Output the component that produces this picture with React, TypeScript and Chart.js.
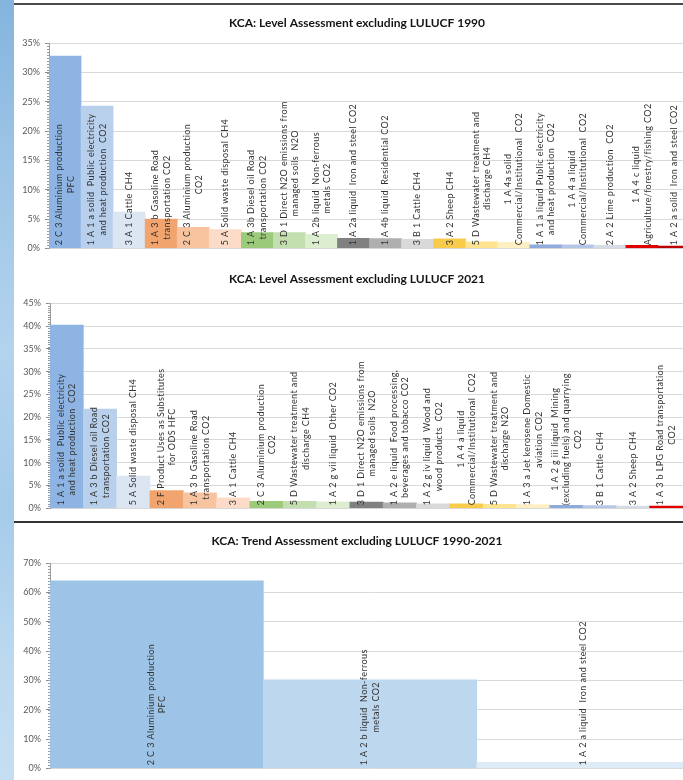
import React, { useEffect, useRef } from "react";
import { Chart, registerables } from "chart.js";

Chart.register(...registerables);

// ---------- Chart 1: Level Assessment 1990 ----------
const categories1990: string[][] = [
  ["2 C 3 Aluminium production", "PFC"],
  ["1 A 1 a solid  Public electricity", "and heat production  CO2"],
  ["3 A 1 Cattle CH4"],
  ["1 A 3 b Gasoline Road", "transportation CO2"],
  ["2 C 3 Aluminium production", "CO2"],
  ["5 A Solid waste disposal CH4"],
  ["1 A 3b Diesel oil Road", "transportation CO2"],
  ["3 D 1 Direct N2O emissions from", "managed soils  N2O"],
  ["1 A 2b liquid  Non-ferrous", "metals CO2"],
  ["1 A 2a liquid  Iron and steel CO2"],
  ["1 A 4b liquid  Residential CO2"],
  ["3 B 1 Cattle CH4"],
  ["3 A 2 Sheep CH4"],
  ["5 D Wastewater treatment and", "discharge CH4"],
  ["1 A 4a solid", "Commercial/Institutional  CO2"],
  ["1 A 1 a liquid Public electricity", "and heat production  CO2"],
  ["1 A 4 a liquid", "Commercial/Institutional  CO2"],
  ["2 A 2 Lime production  CO2"],
  ["1 A 4 c liquid", "Agriculture/forestry/fishing CO2"],
  ["1 A 2 a solid  Iron and steel CO2"],
];
const values1990: number[] = [
  32.8, 24.3, 6.2, 5.0, 3.6, 3.2, 2.7, 2.7, 2.4, 1.7, 1.65, 1.55, 1.6, 1.1, 1.0,
  0.6, 0.6, 0.5, 0.5, 0.4,
];
const colors1990: string[] = [
  "#8db4e2", "#b8d0ec", "#dce6f2",
  "#f2a46e", "#f8c4a0", "#fcdcc8",
  "#9bcb7a", "#c4dfaf", "#ddedd0",
  "#808080", "#afafaf", "#d9d9d9",
  "#f8cb4a", "#ffe38f", "#fff0c4",
  "#8faadc", "#b4c7e7", "#d6dce5",
  "#e00000", "#c00000",
];

// ---------- Chart 2: Level Assessment 2021 ----------
const categories2021: string[][] = [
  ["1 A 1 a solid  Public electricity", "and heat production  CO2"],
  ["1 A 3 b Diesel oil Road", "transportation CO2"],
  ["5 A Solid waste disposal CH4"],
  ["2 F Product Uses as Substitutes", "for ODS HFC"],
  ["1 A 3 b Gasoline Road", "transportation CO2"],
  ["3 A 1 Cattle CH4"],
  ["2 C 3 Aluminium production", "CO2"],
  ["5 D Wastewater treatment and", "discharge CH4"],
  ["1 A 2 g vii liquid  Other CO2"],
  ["3 D 1 Direct N2O emissions from", "managed soils  N2O"],
  ["1 A 2 e liquid  Food processing,", "beverages and tobacco CO2"],
  ["1 A 2 g iv liquid  Wood and", "wood products  CO2"],
  ["1 A 4 a liquid", "Commercial/Institutional  CO2"],
  ["5 D Wastewater treatment and", "discharge N2O"],
  ["1 A 3 a Jet kerosene Domestic", "aviation CO2"],
  ["1 A 2 g iii liquid  Mining", "(excluding fuels) and quarrying", "CO2"],
  ["3 B 1 Cattle CH4"],
  ["3 A 2 Sheep CH4"],
  ["1 A 3 b LPG Road transportation", "CO2"],
];
const values2021: number[] = [
  40.2, 21.8, 7.1, 3.9, 3.4, 2.3, 1.55, 1.55, 1.4, 1.35, 1.2, 1.0, 1.0, 0.85,
  0.8, 0.65, 0.6, 0.5, 0.5,
];
const colors2021: string[] = [
  "#8db4e2", "#b8d0ec", "#dce6f2",
  "#f2a46e", "#f8c4a0", "#fcdcc8",
  "#9bcb7a", "#c4dfaf", "#ddedd0",
  "#808080", "#afafaf", "#d9d9d9",
  "#f8cb4a", "#ffe38f", "#fff0c4",
  "#8faadc", "#b4c7e7", "#d6dce5",
  "#e00000",
];

// ---------- Chart 3: Trend Assessment 1990-2021 ----------
const categoriesTrend: string[][] = [
  ["2 C 3 Aluminium production", "PFC"],
  ["1 A 2 b liquid  Non-ferrous", "metals CO2"],
  ["1 A 2 a liquid  Iron and steel CO2"],
];
const valuesTrend: number[] = [64.0, 30.2, 2.0];
const colorsTrend: string[] = ["#9dc3e6", "#bdd7ee", "#ddebf7"];

const FONT = "Lato, 'Open Sans', sans-serif";

const titlePlugin = {
  id: "customTitle",
  afterDraw(chart: any, _args: any, opts: any) {
    const ctx = chart.ctx;
    ctx.save();
    ctx.font = `bold 12px ${FONT}`;
    ctx.fillStyle = "#151515";
    ctx.textAlign = "center";
    ctx.textBaseline = "middle";
    ctx.fillText(opts.text, opts.x, opts.y);
    ctx.restore();
  },
};

const barLabelPlugin = {
  id: "barLabels",
  afterDatasetsDraw(chart: any) {
    const ctx = chart.ctx;
    const meta = chart.getDatasetMeta(0);
    const y0 = chart.scales.y.getPixelForValue(0) - 3;
    const labels = chart.data.labels as string[][];
    ctx.save();
    ctx.font = `9px ${FONT}`;
    (ctx as any).letterSpacing = "0.4px";
    ctx.fillStyle = "#333333";
    ctx.textAlign = "center";
    ctx.textBaseline = "middle";
    const spacing = 11.5;
    meta.data.forEach((bar: any, i: number) => {
      const lines = labels[i];
      const maxW = Math.max(...lines.map((l) => ctx.measureText(l).width));
      ctx.save();
      ctx.translate(bar.x, y0);
      ctx.rotate(-Math.PI / 2);
      lines.forEach((line, j) => {
        const off = (j - (lines.length - 1) / 2) * spacing;
        ctx.fillText(line, maxW / 2, off);
      });
      ctx.restore();
    });
    ctx.restore();
  },
};

const minorTickPlugin = {
  id: "minorTicks",
  afterDraw(chart: any, _args: any, opts: any) {
    const ctx = chart.ctx;
    const y = chart.scales.y;
    const x = chart.chartArea.left;
    ctx.save();
    ctx.strokeStyle = "#9a9a9a";
    ctx.lineWidth = 1;
    ctx.beginPath();
    for (let v = 0; v <= y.max + 1e-9; v += opts.step) {
      const py = Math.round(y.getPixelForValue(v)) + 0.5;
      ctx.moveTo(x - 2, py);
      ctx.lineTo(x, py);
    }
    ctx.stroke();
    ctx.restore();
  },
};

type Cfg = {
  labels: string[][];
  values: number[];
  colors: string[];
  max: number;
  step: number;
  title: string;
  titleX: number;
  titleY: number;
  axisWidth: number;
};

function BarPanel(props: Cfg & { width: number; height: number; style: React.CSSProperties }) {
  const ref = useRef<HTMLCanvasElement>(null);
  useEffect(() => {
    if (!ref.current) return;
    const chart = new Chart(ref.current, {
      type: "bar",
      data: {
        labels: props.labels,
        datasets: [
          {
            data: props.values,
            backgroundColor: props.colors,
            borderWidth: 0,
            categoryPercentage: 1,
            barPercentage: 1,
          },
        ],
      },
      options: {
        responsive: false,
        animation: false,
        layout: { padding: { top: 43.3, bottom: 11.7, left: 0, right: 0 } },
        plugins: {
          legend: { display: false },
          tooltip: { enabled: false },
          title: { display: false },
          customTitle: { text: props.title, x: props.titleX, y: props.titleY },
          minorTicks: { step: props.step / 10 },
        } as any,
        scales: {
          x: {
            display: false,
            grid: { display: false },
          },
          y: {
            min: 0,
            max: props.max,
            afterFit: (s: any) => {
              s.width = props.axisWidth;
            },
            ticks: {
              stepSize: props.step,
              padding: 5,
              color: "#595959",
              font: { family: FONT, size: 9 },
              callback: (v: any) => `${v}%`,
            },
            grid: {
              color: "#d9d9d9",
              tickColor: "#8a8a8a",
              tickLength: 4,
              drawTicks: true,
            },
            border: { display: true, color: "#9a9a9a", width: 1 },
          },
        },
      },
      plugins: [titlePlugin, barLabelPlugin, minorTickPlugin],
    });
    return () => chart.destroy();
  }, []);
  return (
    <canvas
      ref={ref}
      width={props.width}
      height={props.height}
      style={{ position: "absolute", width: props.width, height: props.height, ...props.style }}
    />
  );
}

export default function App() {
  return (
    <div
      style={{
        position: "absolute",
        left: 0,
        top: 0,
        width: 683,
        height: 780,
        overflow: "hidden",
        background: "#ffffff",
      }}
    >
      <div
        style={{
          position: "absolute",
          left: 0,
          top: 0,
          width: 14,
          height: 780,
          background:
            "linear-gradient(180deg, #84b4dd 0%, #9cc4e6 20%, #b3d3ee 45%, #a5cbea 65%, #bcd9f0 85%, #c6def2 100%)",
        }}
      />
      <BarPanel
        labels={categories1990}
        values={values1990}
        colors={colors1990}
        max={35}
        step={5}
        title="KCA: Level Assessment excluding LULUCF 1990"
        titleX={343}
        titleY={23}
        axisWidth={35}
        width={676}
        height={260}
        style={{ left: 14, top: 0 }}
      />
      <BarPanel
        labels={categories2021}
        values={values2021}
        colors={colors2021}
        max={45}
        step={5}
        title="KCA: Level Assessment excluding LULUCF 2021"
        titleX={343}
        titleY={19.5}
        axisWidth={36}
        width={669}
        height={260}
        style={{ left: 14, top: 260 }}
      />
      <BarPanel
        labels={categoriesTrend}
        values={valuesTrend}
        colors={colorsTrend}
        max={70}
        step={10}
        title="KCA: Trend Assessment excluding LULUCF 1990-2021"
        titleX={343}
        titleY={20.7}
        axisWidth={36}
        width={676}
        height={260}
        style={{ left: 14, top: 520 }}
      />
      <div style={{ position: "absolute", left: 14, top: 3, width: 669, height: 2, background: "#4a4a4a" }} />
      <div style={{ position: "absolute", left: 14, top: 521, width: 669, height: 2, background: "#333333" }} />
    </div>
  );
}
